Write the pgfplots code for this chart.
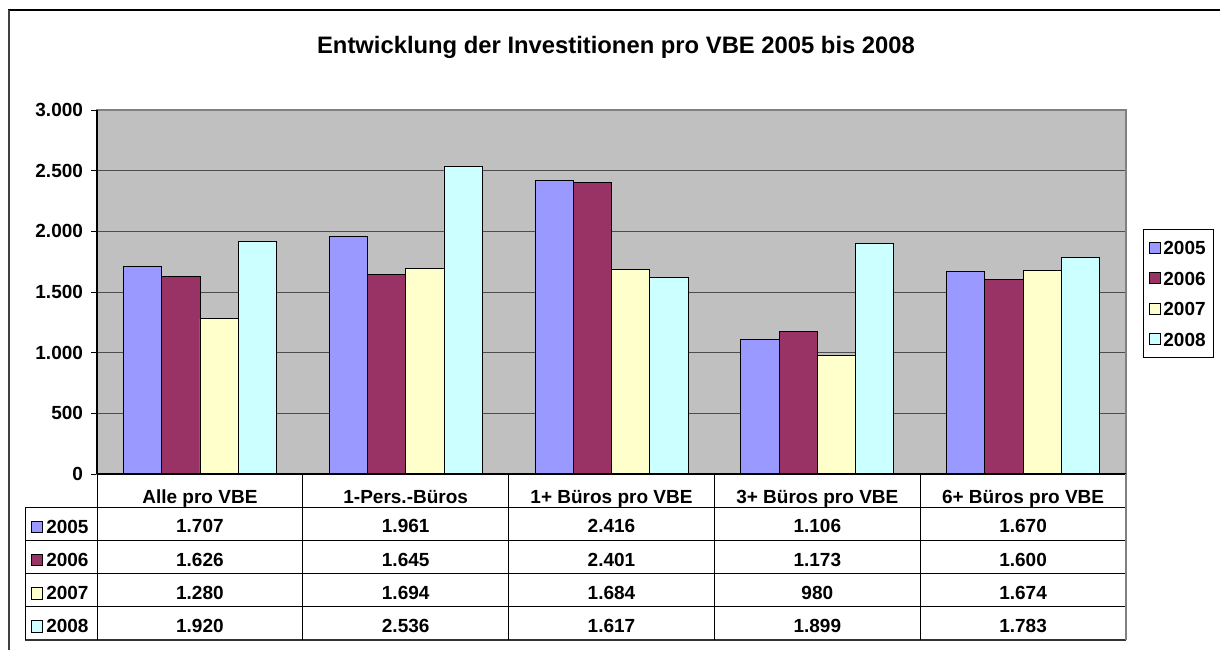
\documentclass[border=0pt]{standalone}
\usepackage{pgfplots}
\pgfplotsset{compat=1.18}
\usepackage{pgfplotstable}
\usepackage{fontspec}
\setmainfont{Liberation Sans}
\definecolor{cA}{HTML}{9999FF}
\definecolor{cB}{HTML}{993366}
\definecolor{cC}{HTML}{FFFFCC}
\definecolor{cD}{HTML}{CCFFFF}
\definecolor{plotbg}{HTML}{C0C0C0}
\definecolor{bordgray}{HTML}{808080}
\pgfplotstableread{
x a b c d
0 1707 1626 1280 1920
1 1961 1645 1694 2536
2 2416 2401 1684 1617
3 1106 1173 980 1899
4 1670 1600 1674 1783
}\data
\newcommand{\body}{\fontsize{14.25}{17}\selectfont\bfseries}
\begin{document}
\begin{tikzpicture}
\begin{scope}[x=0.75pt,y=-0.75pt]
\useasboundingbox (0,0) rectangle (1220,650);
\draw[black, line width=1.1pt] (8,10) -- (1220,10);
\draw[black!75, line width=1.5pt] (8.5,10) -- (8.5,650);
\node[font=\fontsize{17.85}{21}\selectfont\bfseries] at (616,47) {Entwicklung der Investitionen pro VBE 2005 bis 2008};
\end{scope}
\begin{axis}[
  at={(72.75pt,-355.5pt)}, anchor=south west,
  scale only axis, width=771.75pt, height=273pt,
  xmin=-0.5, xmax=4.5, ymin=0, ymax=3000,
  clip=false,
  axis background/.style={fill=plotbg},
  axis line style={draw=bordgray, line width=0.9pt},
  ymajorgrids, grid style={draw=black!70, line width=0.6pt},
  ytick={0,500,...,3000}, ytick pos=left,
  tick align=outside, major tick length=4.5pt,
  ytick style={draw=black, line width=0.6pt},
  yticklabel style={font=\body, xshift=-2.5pt},
  /pgf/number format/.cd, 1000 sep={.}, assume math mode=true, /pgfplots/.cd,
  xtick={0,1,2,3,4},
  xticklabels={Alle pro VBE, 1-Pers.-Büros, 1+ Büros pro VBE, 3+ Büros pro VBE, 6+ Büros pro VBE},
  xtick style={draw=none},
  xticklabel style={font=\body, anchor=base, yshift=-17.4pt},
  bar width=0.186,
  legend image code/.code={\draw[#1,draw=black,line width=0.6pt] (0pt,-4.2pt) rectangle (8.4pt,4.2pt);},
  legend cell align=left,
  legend style={draw=black, line width=0.6pt, font=\body,
    at={(1.0165,0.673)}, anchor=north west, inner xsep=4pt, inner ysep=6.5pt, row sep=8.6pt,
    nodes={inner sep=2pt, text height=10.3pt, text depth=0pt}},
]
\addplot[ybar, bar shift=-0.279, fill=cA, draw=black, line width=0.6pt] table[x=x,y=a]{\data};
\addplot[ybar, bar shift=-0.093, fill=cB, draw=black, line width=0.6pt] table[x=x,y=b]{\data};
\addplot[ybar, bar shift=0.093, fill=cC, draw=black, line width=0.6pt] table[x=x,y=c]{\data};
\addplot[ybar, bar shift=0.279, fill=cD, draw=black, line width=0.6pt] table[x=x,y=d]{\data};
\legend{2005,2006,2007,2008}
\draw[black, line width=0.8pt] (rel axis cs:0,0) -- (rel axis cs:0,1);
\draw[black, line width=0.8pt] (rel axis cs:0,0) -- (rel axis cs:1,0);
\pgfplotsset{every node near coord/.append style={anchor=center, font=\body, black}}
\addplot[draw=none, mark=none, forget plot, nodes near coords, point meta=explicit] table[x=x, y expr=-431, meta=a]{\data};
\addplot[draw=none, mark=none, forget plot, nodes near coords, point meta=explicit] table[x=x, y expr=-704.7, meta=b]{\data};
\addplot[draw=none, mark=none, forget plot, nodes near coords, point meta=explicit] table[x=x, y expr=-978.3, meta=c]{\data};
\addplot[draw=none, mark=none, forget plot, nodes near coords, point meta=explicit] table[x=x, y expr=-1251.9, meta=d]{\data};
\end{axis}
\begin{scope}[x=0.75pt,y=-0.75pt]
\foreach \yy in {507.2,540.4,573.6,606.8}{\draw[black, line width=0.7pt] (25,\yy) -- (1126,\yy);}
\draw[black!80, line width=0.9pt] (25,640) -- (1126,640);
\draw[black, line width=0.7pt] (25,507.2) -- (25,640);
\foreach \xx in {97,302.8,508.6,714.4,920.2}{\draw[black, line width=0.7pt] (\xx,474) -- (\xx,640);}
\draw[bordgray, line width=0.9pt] (1126,474) -- (1126,640);
\foreach \yy/\cc/\tt in {526.3/cA/2005,559.5/cB/2006,592.7/cC/2007,625.9/cD/2008}{
  \draw[fill=\cc, draw=black, line width=0.6pt] (31,\yy-5.3) rectangle (42.6,\yy+6.3);
  \node[anchor=west, font=\body, inner sep=0pt, text height=10.3pt, text depth=0pt] at (46,\yy) {\tt};
}
\end{scope}
\end{tikzpicture}
\end{document}
